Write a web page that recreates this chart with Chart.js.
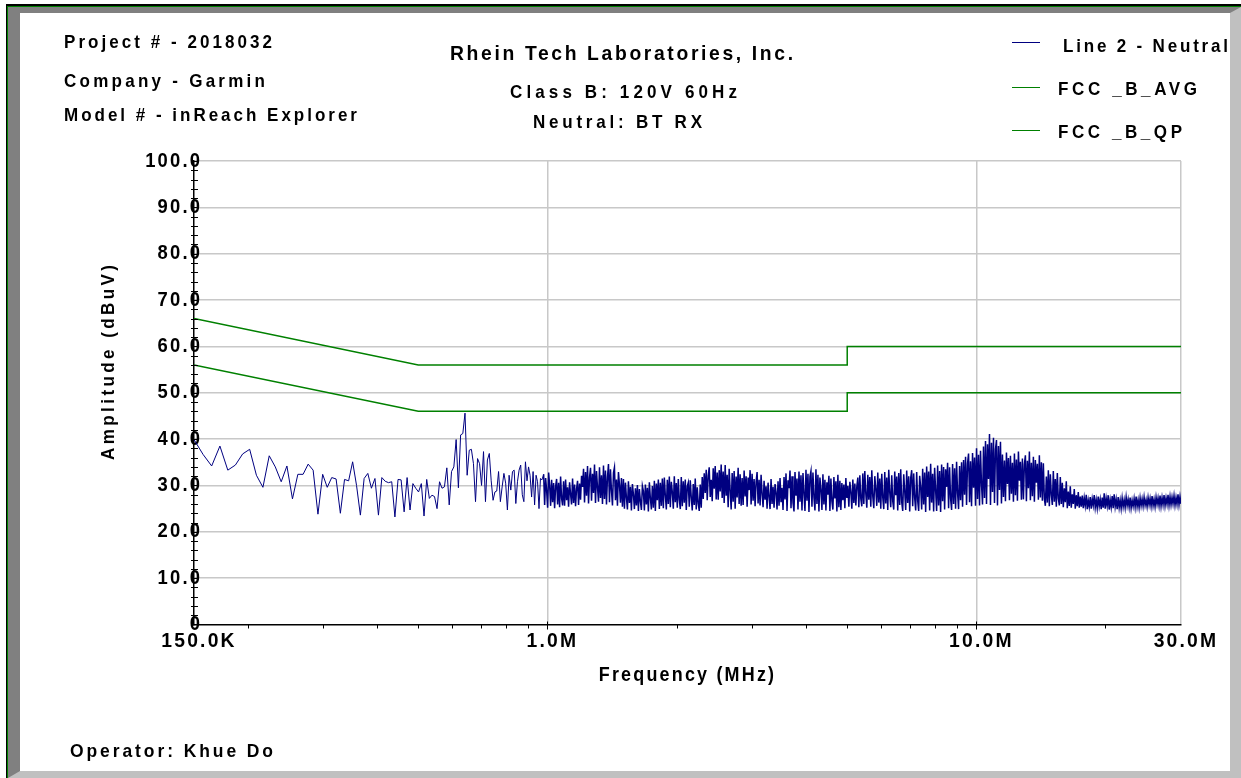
<!DOCTYPE html>
<html>
<head>
<meta charset="utf-8">
<script src="https://cdn.jsdelivr.net/npm/chart.js@4.4.1/dist/chart.umd.min.js"></script>
<style>
html,body{margin:0;padding:0;background:#fff;}
#page{position:relative;width:1241px;height:778px;overflow:hidden;background:#fff;}
.abs{position:absolute;}
#edge1{left:6px;top:4px;right:0;bottom:0;border-left:1px solid #000;border-top:2px solid #000;}
#edge2{left:7px;top:6px;right:0;bottom:0;border-left:1px solid #008000;border-top:1px solid #008000;}
#bevel{left:8px;top:7px;width:1233px;height:771px;box-sizing:border-box;border-top:6px solid #808080;border-left:12px solid #808080;border-right:11px solid #c0c0c0;border-bottom:7px solid #c0c0c0;background:#fff;}
#c{position:absolute;left:0;top:0;}
.txt{position:absolute;white-space:pre;font-family:"Liberation Sans",Arial,sans-serif;font-weight:bold;color:#000;line-height:1;transform-origin:0 0;}
.swatch{position:absolute;height:1px;}
</style>
</head>
<body>
<div id="page">
  <div id="edge1" class="abs"></div>
  <div id="edge2" class="abs"></div>
  <div id="bevel" class="abs"></div>
  <canvas id="c" width="1241" height="778" style="width:1241px;height:778px"></canvas>
</div>
<script>
// ---------------- DATA ----------------
const infoLines = ['Project # - 2018032', 'Company - Garmin', 'Model # - inReach Explorer'];
const titleLines = ['Rhein Tech Laboratories, Inc.', 'Class B: 120V 60Hz', 'Neutral: BT RX'];
const operatorLine = 'Operator: Khue Do';
const xAxisTitle = 'Frequency (MHz)';
const yAxisTitle = 'Amplitude (dBuV)';
const seriesNames = ['Line 2 - Neutral', 'FCC _B_AVG', 'FCC _B_QP'];

const freqTickValues = [0.15, 1, 10, 30];
const freqTickLabels = ['150.0K', '1.0M', '10.0M', '30.0M'];
const freqMinorTicks = [0.2, 0.3, 0.4, 0.5, 0.6, 0.7, 0.8, 0.9, 2, 3, 4, 5, 6, 7, 8, 9, 20];
const freqGridValues = [1, 10, 30];
const ampTickValues = [0, 10, 20, 30, 40, 50, 60, 70, 80, 90, 100];
const ampTickLabels = ['0', '10.0', '20.0', '30.0', '40.0', '50.0', '60.0', '70.0', '80.0', '90.0', '100.0'];
const ampMinorStep = 2;

// FCC Class B limits (MHz, dBuV)
const avgFreqMHz = [0.15, 0.5, 5, 5, 30];
const avgLevels  = [56, 46, 46, 50, 50];
const qpFreqMHz  = [0.15, 0.5, 5, 5, 30];
const qpLevels   = [66, 56, 56, 60, 60];

// Measured trace, low band: linear sweep points (dBuV)
const sweepStartMHz = 0.15;
const sweepStepMHz = 0.0074625;
const sweepLevels = [
  39.9, 36.7, 34.2, 38.5, 33.3, 34.4, 36.8, 37.8, 32.2, 29.6, 36.4, 34.0, 30.8, 34.2, 27.1, 32.4, 32.4, 34.6, 33.3, 23.8, 32.4, 29.6, 31.7, 31.4, 24.0,
  31.3, 31.0, 35.1, 30.0, 23.6, 31.5, 32.6, 29.4, 31.5, 23.6, 31.7, 30.9, 30.6, 30.8, 23.2, 31.3, 31.2, 24.3, 31.7, 24.7, 30.4, 29.4, 28.6, 30.4, 23.4,
  31.3, 27.2, 27.9, 27.6, 25.0, 30.8, 29.4, 29.7, 33.8, 25.8, 33.0, 34.0, 39.9, 29.5, 40.9, 41.2, 45.6,
  32.2, 37.6, 37.8, 34.7, 26.5, 35.8, 34.7, 30.0, 37.3, 26.5, 35.5, 36.9, 31.0, 26.8, 28.6, 28.8, 33.0, 26.5, 29.7,
  32.6, 30.5, 24.7, 32.2, 29.0, 33.0, 33.3, 26.1, 30.8, 33.3, 34.4, 28.0, 26.5, 35.1, 31.0, 34.0, 32.2, 27.5, 33.0, 25.8, 32.2, 30.8, 25.0, 31.5, 31.2
];

// Measured trace, dense band 0.98-30 MHz: one reading per pixel column (dBuV)
const denseStartMHz = 0.98;
const denseEndMHz = 30;
const denseLevels = [
  32.4,25.8,31.6,28.9,25.2,32.8,30.1,25.6,31.2,26.4,30.5,25.1,29.8,31.4,25.9,30.6,25.3,31.9,27.2,25.7,
  30.9,25.6,31.3,26.8,29.6,25.4,30.7,28.1,25.9,31.5,26.2,30.2,25.5,29.3,31.0,25.8,30.4,26.9,32.1,29.7,
  33.6,26.3,32.9,27.8,34.2,26.1,31.7,33.8,26.7,32.5,28.4,34.5,26.2,33.1,29.6,26.5,33.9,27.3,32.2,26.0,
  34.3,27.1,33.2,25.9,31.8,34.6,26.4,33.5,28.9,25.7,32.7,33.9,26.8,31.3,25.6,32.9,30.2,26.3,31.6,25.4,
  31.4,25.0,30.6,27.4,24.8,30.9,26.2,29.7,24.6,30.3,28.1,24.9,29.4,25.7,30.1,24.5,29.2,26.6,24.7,29.9,
  28.8,24.6,30.2,25.9,29.5,24.4,30.7,27.3,24.8,29.9,25.2,31.0,24.5,30.4,26.8,31.3,24.9,30.6,25.6,31.5,
  25.1,31.7,27.9,24.8,31.2,26.0,31.9,25.3,30.8,28.6,25.0,32.0,26.4,30.5,25.2,31.4,27.0,24.9,31.8,25.5,
  30.9,26.3,31.3,24.7,29.8,30.6,25.4,31.1,27.5,24.6,30.3,25.8,31.5,24.8,29.6,26.1,24.5,30.2,25.2,31.8,
  27.1,32.6,28.4,33.4,26.8,32.1,33.9,27.5,31.2,26.6,33.7,29.3,34.2,27.0,32.8,26.9,33.3,28.7,34.5,27.3,
  33.0,26.2,34.4,27.8,32.3,25.3,33.6,28.9,24.8,32.7,26.5,33.1,25.0,31.9,27.4,33.8,26.0,32.4,25.6,31.6,
  25.8,33.2,27.6,32.0,25.4,31.7,29.0,33.3,25.9,32.5,26.7,31.4,25.5,30.8,32.9,26.1,31.2,25.7,32.3,28.2,
  25.3,31.0,26.9,29.8,25.0,30.6,27.7,24.9,31.4,26.0,29.7,25.2,30.3,28.5,24.8,30.9,25.6,31.6,26.4,29.5,
  24.7,31.8,27.0,32.6,24.5,31.1,29.4,33.2,25.1,32.0,26.3,24.4,32.9,27.8,31.5,24.8,33.0,26.5,32.2,24.6,
  32.7,28.3,24.5,33.4,26.7,32.5,24.3,31.9,33.1,25.4,32.8,27.4,24.6,33.5,26.0,32.3,24.4,31.7,29.1,24.7,
  32.4,25.9,31.2,24.6,30.7,28.0,32.1,24.5,31.5,26.6,24.8,31.8,27.2,30.9,24.4,32.3,25.3,31.0,24.7,30.5,
  26.8,30.2,25.1,31.6,27.3,29.9,25.4,30.8,28.6,25.0,31.3,26.2,30.4,25.7,29.8,31.7,25.3,32.2,27.1,25.5,
  32.6,26.0,33.1,28.2,25.2,32.3,26.9,31.8,25.4,33.3,27.6,25.1,32.0,29.3,25.6,32.8,26.3,31.5,25.0,32.5,
  27.4,24.9,32.9,26.1,31.7,24.7,33.4,28.5,25.3,32.2,26.6,24.8,33.0,27.9,31.9,24.6,32.7,25.8,33.5,26.4,
  24.5,32.4,28.8,24.7,33.2,26.2,32.0,24.4,31.6,33.3,25.5,32.6,27.3,24.6,32.9,26.7,24.5,32.1,29.6,24.8,
  33.6,25.9,32.8,24.3,34.1,27.5,33.0,24.6,34.7,26.3,32.5,24.4,33.8,28.9,24.5,34.3,25.7,33.1,24.3,34.5,
  26.6,34.0,24.8,33.5,29.7,34.9,25.1,33.9,27.2,24.7,34.6,26.0,33.7,25.0,35.1,28.3,24.9,34.2,26.8,35.0,
  25.4,35.5,28.0,36.2,25.8,34.8,36.9,26.4,35.2,25.5,37.0,29.5,36.0,25.6,38.0,27.1,36.6,25.7,37.5,30.2,
  25.9,38.4,27.3,39.6,26.0,38.9,31.4,41.1,25.8,39.2,28.6,40.3,26.2,37.8,39.8,25.7,38.5,29.0,39.4,26.1,
  36.7,27.5,35.4,26.6,37.1,30.3,35.9,26.8,36.4,28.2,34.9,26.5,36.9,27.9,35.6,26.7,37.3,31.0,35.1,26.9,
  35.8,27.0,34.6,36.5,26.6,35.3,29.4,37.3,26.8,34.9,27.7,36.2,26.5,35.5,30.6,34.7,26.9,36.5,27.4,35.0,
  26.7,34.8,27.1,25.6,31.9,26.3,33.3,25.5,32.4,28.0,25.8,33.1,26.5,31.4,25.4,32.7,27.2,25.7,31.8,26.0,
  30.6,25.3,29.4,26.4,30.9,25.1,28.7,25.6,29.8,25.2,28.1,26.0,29.2,25.0,27.9,25.5,28.6,25.2,27.6,25.4,
  27.8,25.1,27.3,25.6,28.0,24.9,26.8,25.4,27.5,25.0,27.1,25.7,27.9,25.2,26.9,25.1,27.6,25.5,27.0,24.9,
  27.4,25.2,28.3,25.0,27.2,25.6,27.9,24.8,26.9,25.3,27.7,25.1,28.1,25.4,27.0,24.9,27.5,25.2,26.8,25.0,
  27.3,25.4,26.9,25.2,27.5,25.6,27.0,25.3,27.4,25.1,26.8,25.5,27.2,25.3,27.6,25.4,26.9,25.2,27.3,25.6,
  27.1,25.5,27.5,25.7,26.9,25.4,27.4,25.8,27.2,25.5,27.7,25.6,27.0,25.4,27.5,25.9,27.3,25.6,27.8,25.5,
  27.4,25.8,27.9,25.6,27.3,25.9,28.0,25.7,27.6,25.8,27.5,26.0,27.8,25.7,27.4,25.9,28.1,25.8,27.6,26.0
];

// ---------------- LAYOUT ----------------
const FONT = '"Liberation Sans", Arial, sans-serif';
const TEXT_SCALE_X = 0.92;   // slightly condensed lettering as in the reference
const CANVAS_LETTER_SPACING = 2.2;
const page = document.getElementById('page');

function placeText(text, x, capTop, size, width, rotated) {
  const el = document.createElement('div');
  el.className = 'txt';
  el.textContent = text;
  el.style.fontSize = size + 'px';
  el.style.left = '0px'; el.style.top = '0px';
  page.appendChild(el);
  const natural = el.getBoundingClientRect().width;
  const n = [...text].length;
  el.style.letterSpacing = ((width / TEXT_SCALE_X - natural) / (n - 1)).toFixed(2) + 'px';
  if (!rotated) {
    el.style.transform = 'scaleX(' + TEXT_SCALE_X + ')';
    el.style.left = x + 'px';
    el.style.top = (capTop - 0.13 * size) + 'px';
  } else {
    el.style.transform = 'rotate(-90deg) scaleX(' + TEXT_SCALE_X + ')';
    el.style.left = (x - 0.13 * size) + 'px';
    el.style.top = capTop + 'px';
  }
  return el;
}

const infoLayout = [[64, 35.7, 18.5, 208], [64, 74, 18.5, 201], [64, 108, 18.5, 293]];
infoLines.forEach((t, i) => placeText(t, infoLayout[i][0], infoLayout[i][1], infoLayout[i][2], infoLayout[i][3]));
const titleLayout = [[450, 45, 21, 343], [510, 85, 18.5, 227], [533, 115, 18.5, 169]];
titleLines.forEach((t, i) => placeText(t, titleLayout[i][0], titleLayout[i][1], titleLayout[i][2], titleLayout[i][3]));
placeText(operatorLine, 70, 743.5, 19, 203);
placeText(yAxisTitle, 101.7, 460, 18.5, 195, true);

// ---------------- CHART ----------------
const tracePoints = sweepLevels.map((v, i) => ({x: sweepStartMHz + i * sweepStepMHz, y: v}))
  .concat(denseLevels.map((v, k) => ({
    x: denseStartMHz * Math.pow(denseEndMHz / denseStartMHz, k / (denseLevels.length - 1)), y: v})));
const avgPoints = avgFreqMHz.map((f, i) => ({x: f, y: avgLevels[i]}));
const qpPoints = qpFreqMHz.map((f, i) => ({x: f, y: qpLevels[i]}));

// Condensed, letter-spaced canvas lettering for ticks and axis title
const letteringPlugin = {
  id: 'lettering',
  beforeInit(chart) {
    const ctx = chart.ctx;
    const orig = ctx.fillText.bind(ctx);
    ctx.fillText = function (text, x, y, maxWidth) {
      ctx.save();
      ctx.translate(x, y);
      ctx.scale(TEXT_SCALE_X, 1);
      if (maxWidth !== undefined) orig(text, 0, 0, maxWidth / TEXT_SCALE_X); else orig(text, 0, 0);
      ctx.restore();
    };
  },
  beforeDraw(chart) { chart.ctx.letterSpacing = (CANVAS_LETTER_SPACING / TEXT_SCALE_X).toFixed(2) + 'px'; }
};
const tickMarkPlugin = {
  id: 'tickMarks',
  afterDraw(chart) {
    const {ctx, chartArea: a, scales: {x, y}} = chart;
    ctx.save();
    ctx.strokeStyle = '#000';
    ctx.lineWidth = 1;
    ctx.beginPath();
    y.ticks.forEach(t => {
      if (t.value <= 0) return;
      const py = Math.round(y.getPixelForValue(t.value)) + 0.5;
      ctx.moveTo(a.left - 3, py); ctx.lineTo(a.left + 4, py);
    });
    x.ticks.forEach(t => {
      if (t.value <= freqTickValues[0] || t.value >= freqTickValues[freqTickValues.length - 1]) return;
      const px = Math.round(x.getPixelForValue(t.value)) + 0.5;
      const major = freqTickValues.includes(t.value);
      ctx.moveTo(px, a.bottom - (major ? 3 : 0)); ctx.lineTo(px, a.bottom + (major ? 5 : 4));
    });
    ctx.stroke();
    ctx.restore();
  }
};
const noLabelClip = function () { return undefined; };

const chart = new Chart(document.getElementById('c'), {
  type: 'line',
  data: {
    datasets: [
      {label: seriesNames[0], data: tracePoints, borderColor: '#000080', backgroundColor: '#000080', borderWidth: 1, pointRadius: 0, tension: 0, fill: false,
       segment: {borderWidth: (c) => c.p0DataIndex >= sweepLevels.length ? 1.5 : 1}},
      {label: seriesNames[1], data: avgPoints, borderColor: '#008000', backgroundColor: '#008000', borderWidth: 1.5, pointRadius: 0, tension: 0, fill: false},
      {label: seriesNames[2], data: qpPoints, borderColor: '#008000', backgroundColor: '#008000', borderWidth: 1.5, pointRadius: 0, tension: 0, fill: false}
    ]
  },
  options: {
    responsive: false,
    animation: false,
    devicePixelRatio: 1,
    parsing: false,
    normalized: true,
    events: [],
    layout: {padding: {left: 0, top: 161, right: 60, bottom: 83.5}},
    plugins: {legend: {display: false}, tooltip: {enabled: false}, title: {display: false}},
    scales: {
      x: {
        type: 'logarithmic',
        position: 'bottom',
        min: freqTickValues[0],
        max: freqTickValues[freqTickValues.length - 1],
        afterBuildTicks(s) {
          s.ticks = freqTickValues.concat(freqMinorTicks).sort((a, b) => a - b).map(v => ({value: v}));
        },
        afterFit(s) { s.height = 70; s.paddingLeft = 0; s.paddingRight = 0; s.paddingTop = 0; s.paddingBottom = 0; s._computeLabelArea = noLabelClip; },
        ticks: {
          autoSkip: false, maxRotation: 0, minRotation: 0, padding: 4.6, labelOffset: 5,
          color: '#000', font: {family: FONT, size: 21, weight: 'bold'},
          callback(v) { const i = freqTickValues.indexOf(v); return i >= 0 ? freqTickLabels[i] : ''; }
        },
        grid: {
          drawTicks: false, lineWidth: 1.5,
          color: (c) => (c.tick && freqGridValues.includes(c.tick.value)) ? '#c8c8c8' : 'rgba(0,0,0,0)'
        },
        border: {display: true, color: '#000', width: 1.5},
        title: {display: true, text: xAxisTitle, color: '#000', font: {family: FONT, size: 19.5, weight: 'bold'}, padding: {top: 0, bottom: 7.6}}
      },
      y: {
        type: 'linear',
        position: 'left',
        min: ampTickValues[0],
        max: ampTickValues[ampTickValues.length - 1],
        afterFit(s) { s.width = 194; s.paddingLeft = 0; s.paddingRight = 0; s.paddingTop = 0; s.paddingBottom = 0; s._computeLabelArea = noLabelClip; },
        ticks: {
          stepSize: ampMinorStep, autoSkip: false, padding: -8.2,
          color: '#000', font: {family: FONT, size: 20, weight: 'bold'},
          callback(v) { const i = ampTickValues.indexOf(v); return i >= 0 ? ampTickLabels[i] : ''; }
        },
        grid: {
          drawTicks: false, lineWidth: 1.5,
          color: (c) => (c.tick && c.tick.value > 0 && ampTickValues.includes(c.tick.value)) ? '#c8c8c8' : 'rgba(0,0,0,0)'
        },
        border: {display: true, color: '#000', width: 1.5},
        title: {display: false}
      }
    }
  },
  plugins: [letteringPlugin, tickMarkPlugin]
});

// Legend built from the chart's datasets
const legendLayout = [[42, 1063, 39, 165], [87, 1058, 82, 139], [130, 1058, 125, 124]];
chart.data.datasets.forEach((ds, i) => {
  const sw = document.createElement('div');
  sw.className = 'swatch';
  sw.style.left = '1012px'; sw.style.width = '28px';
  sw.style.top = legendLayout[i][0] + 'px';
  sw.style.background = ds.borderColor;
  page.appendChild(sw);
  placeText(ds.label, legendLayout[i][1], legendLayout[i][2], 18.5, legendLayout[i][3]);
});
</script>
</body>
</html>
